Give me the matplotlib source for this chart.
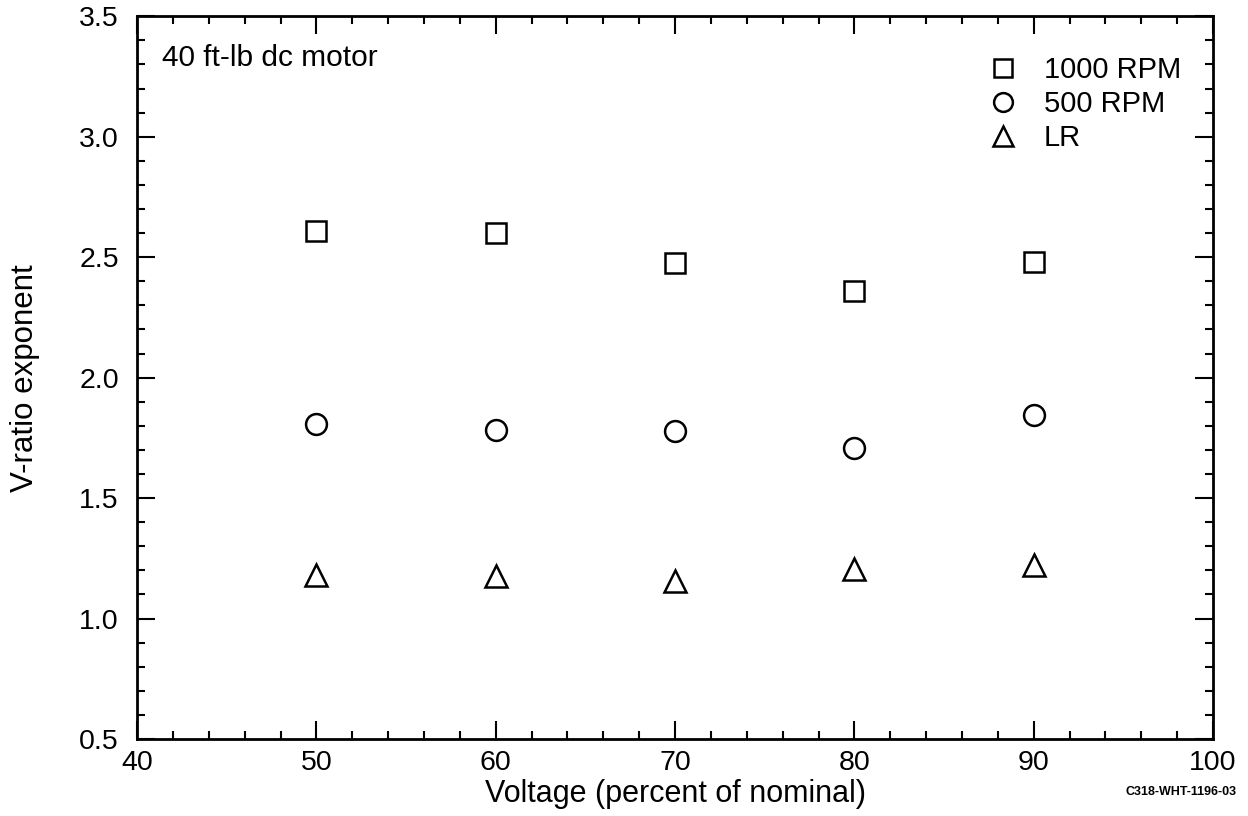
import matplotlib
matplotlib.use("Agg")
import matplotlib.pyplot as plt
from matplotlib.ticker import MultipleLocator, FormatStrFormatter

plt.rcParams["font.family"] = ["Liberation Sans", "DejaVu Sans"]

voltage = [50, 60, 70, 80, 90]
rpm_1000 = [2.61, 2.60, 2.475, 2.36, 2.48]
rpm_500 = [1.807, 1.782, 1.778, 1.707, 1.844]
locked_rotor = [1.18, 1.176, 1.156, 1.205, 1.222]

fig = plt.figure(figsize=(12.48, 8.16), dpi=100)
ax = fig.add_axes([0.1098, 0.0944, 0.8622, 0.8856])

style = dict(linestyle="none", markerfacecolor="none", markeredgecolor="black",
             markeredgewidth=1.8)
ax.plot(voltage, rpm_1000, marker="s", markersize=15, label="1000 RPM", **style)
ax.plot(voltage, rpm_500, marker="o", markersize=15, label="500 RPM", **style)
ax.plot(voltage, locked_rotor, marker="^", markersize=16, label="LR", **style)

ax.set_xlim(40, 100)
ax.set_ylim(0.5, 3.5)
ax.xaxis.set_major_locator(MultipleLocator(10))
ax.xaxis.set_minor_locator(MultipleLocator(2))
ax.yaxis.set_major_locator(MultipleLocator(0.5))
ax.yaxis.set_minor_locator(MultipleLocator(0.1))
ax.yaxis.set_major_formatter(FormatStrFormatter("%.1f"))

ax.tick_params(which="both", direction="in", top=True, right=True,
               labelsize=20.5, width=1.5)
ax.tick_params(which="major", length=13)
ax.tick_params(which="minor", length=6)
ax.tick_params(axis="x", which="major", pad=8)
ax.tick_params(axis="y", which="major", pad=13)
for s in ax.spines.values():
    s.set_linewidth(2)

ax.set_xlabel("Voltage (percent of nominal)", fontsize=22, labelpad=2)
ax.set_ylabel("V-ratio exponent", fontsize=22.5, labelpad=28)

ax.text(0.023, 0.962, "40 ft-lb dc motor", transform=ax.transAxes,
        fontsize=21.5, va="top", ha="left")

ax.legend(loc="upper left", bbox_to_anchor=(0.753, 0.981), frameon=False,
          fontsize=21, handletextpad=0.4, labelspacing=0.2, markerscale=0.9)

fig.text(0.9465, 0.029, "C318-WHT-1196-03", fontsize=9, fontweight="bold",
         ha="center", va="center")

fig.savefig("out.png", dpi=100)
